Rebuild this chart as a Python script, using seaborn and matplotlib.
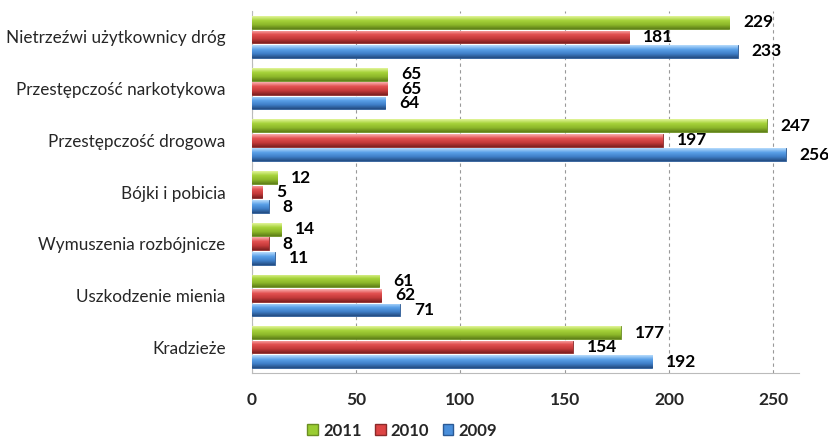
import numpy as np
import pandas as pd
import matplotlib
matplotlib.use("Agg")
import matplotlib.pyplot as plt
import seaborn as sns
from matplotlib.colors import LinearSegmentedColormap
from matplotlib.patches import Patch

# Dane
kategorie = ['Nietrzeźwi użytkownicy dróg', 'Przestępczość narkotykowa', 'Przestępczość drogowa',
             'Bójki i pobicia', 'Wymuszenia rozbójnicze', 'Uszkodzenie mienia', 'Kradzieże']
lata = ['2011', '2010', '2009']
v2011 = [229, 65, 247, 12, 14, 61, 177]
v2010 = [181, 65, 197, 5, 8, 62, 154]
v2009 = [233, 64, 256, 8, 11, 71, 192]
ticki = [0, 50, 100, 150, 200, 250]

df = pd.DataFrame({
    'Kategoria': kategorie * 3,
    'Rok': [lata[0]] * 7 + [lata[1]] * 7 + [lata[2]] * 7,
    'Wartosc': v2011 + v2010 + v2009,
})

sns.set_style('white')
plt.rcParams['font.family'] = ['Lato', 'DejaVu Sans']

kolory = {'2011': '#9ACD32', '2010': '#DD4444', '2009': '#4A8FDB'}
gradienty = {
    '2011': ['#E2F59A', '#A6D23A', '#8DB82A', '#5E7F18'],
    '2010': ['#F9B0B0', '#E25050', '#C43A3A', '#7E2020'],
    '2009': ['#B8DCFC', '#5AA0E8', '#3F7FC8', '#234C82'],
}
krawedzie = {'2011': '#6B8E23', '2010': '#8B2A2A', '2009': '#2B5A95'}

fig = plt.figure(figsize=(8.29, 4.44), dpi=100)
ax = fig.add_axes([0.304, 0.16, 0.66, 0.815])

sns.barplot(data=df, y='Kategoria', x='Wartosc', hue='Rok', hue_order=lata,
            order=kategorie, palette=kolory, orient='h', width=0.84, gap=0.12,
            legend=False, ax=ax, zorder=3)

ax.set_xlim(0, 262.5)
ylim = ax.get_ylim()

# Efekt gradientu na słupkach
for rok, cont in zip(lata, ax.containers):
    cmap = LinearSegmentedColormap.from_list(rok, gradienty[rok])
    grad = np.linspace(0, 1, 64).reshape(-1, 1)
    for bar in cont:
        bar.set_edgecolor(krawedzie[rok])
        bar.set_linewidth(0.6)
        x0, y0 = bar.get_x(), bar.get_y()
        w, h = bar.get_width(), bar.get_height()
        im = ax.imshow(grad, cmap=cmap, aspect='auto', origin='upper',
                       extent=(x0, x0 + w, y0 + h, y0), zorder=4)
        im.set_clip_path(bar)

for cont in ax.containers:
    ax.bar_label(cont, padding=10, fontsize=12.5, fontweight='bold', color='black',
                 zorder=5, clip_on=False)

ax.set_ylim(ylim)
ax.set_xlim(0, 262.5)
ax.set_xticks(ticki)
ax.set_xticklabels([str(t) for t in ticki], fontsize=12.5, fontweight='bold')
ax.tick_params(axis='x', pad=14, length=0)
ax.tick_params(axis='y', labelsize=12.3, length=0, pad=19)
ax.set_xlabel('')
ax.set_ylabel('')

ax.grid(axis='x', linestyle=(0, (3, 3)), color='#999999', linewidth=0.8, zorder=0)
ax.yaxis.grid(False)
for s in ['top', 'right']:
    ax.spines[s].set_visible(False)
ax.spines['left'].set_color('#BBBBBB')
ax.spines['bottom'].set_color('#BBBBBB')

uchwyty = [Patch(facecolor=kolory[r], edgecolor=krawedzie[r], label=r) for r in lata]
fig.legend(handles=uchwyty, loc='center', bbox_to_anchor=(0.485, 0.03), ncol=3,
           frameon=False, handlelength=0.65, handleheight=0.65, handletextpad=0.3,
           columnspacing=0.8, borderpad=0.1, prop={'weight': 'bold', 'size': 12})

fig.savefig('out.png', dpi=100)
